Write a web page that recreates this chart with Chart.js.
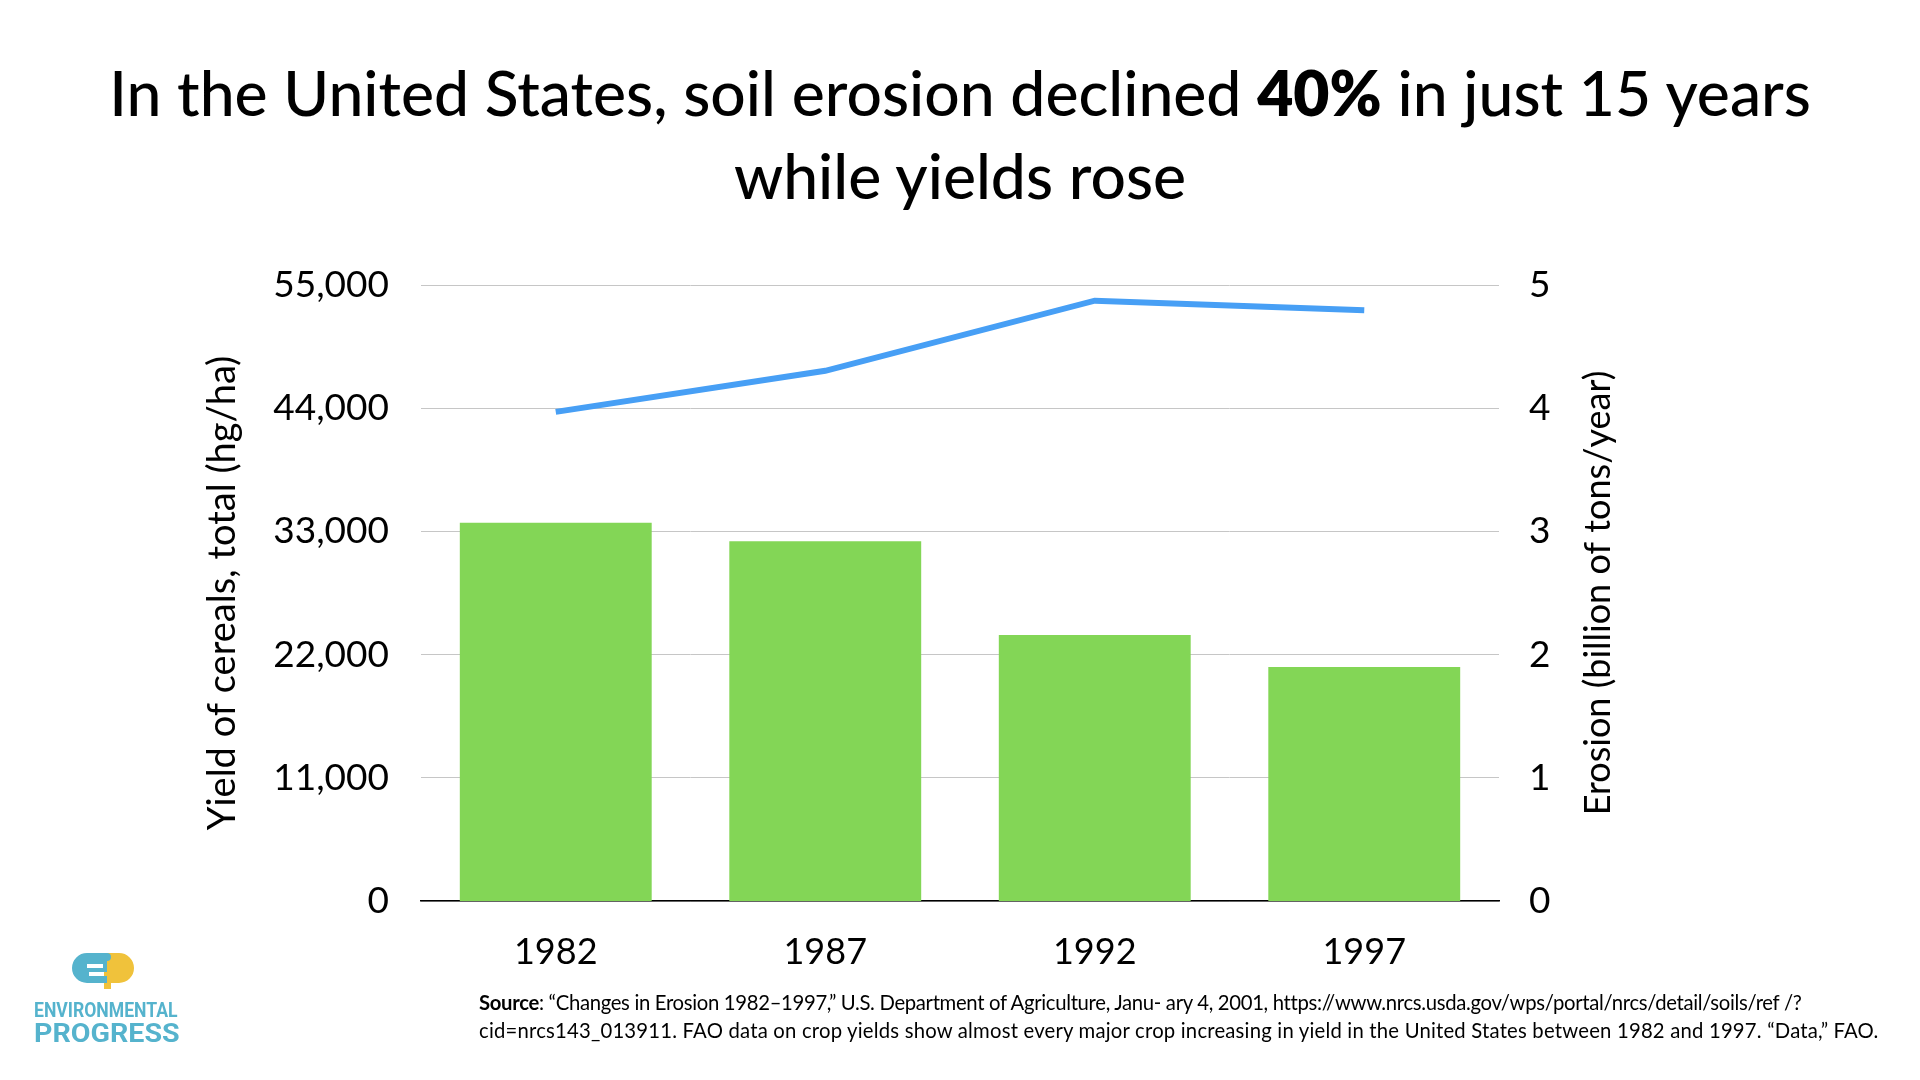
<!DOCTYPE html>
<html>
<head>
<meta charset="utf-8">
<script src="https://cdn.jsdelivr.net/npm/chart.js@4.4.1/dist/chart.umd.min.js"></script>
<style>
  html, body { margin: 0; padding: 0; background: #fff; }
  body { width: 1920px; height: 1080px; position: relative; overflow: hidden; font-family: Lato, "Noto Sans", sans-serif; }
  #wrap { position: absolute; left: 0; top: 0; width: 1920px; height: 1080px; }
  .title { position: absolute; left: 0; top: 50px; width: 1920px; text-align: center; font-size: 62.4px; line-height: 83px; font-weight: 500; color: #000; }
  .title b { font-weight: 800; }
  .source { position: absolute; left: 479px; top: 988px; font-size: 20.3px; line-height: 28px; color: #000; white-space: nowrap; }
  .source .s1 { letter-spacing: -0.32px; }
  .source .s2 { letter-spacing: 0.2px; }
  .logo { position: absolute; left: 34px; top: 950px; width: 146px; color: #55b3cd; font-family: Roboto, "DejaVu Sans", sans-serif; font-weight: bold; }
  .logo div { transform-origin: 0 0; white-space: nowrap; }
  .logo .l1 { font-size: 20px; line-height: 20px; margin-top: 50px; transform: scaleX(0.88); }
  .logo .l2 { font-size: 26px; line-height: 26px; transform: scaleX(1.1); }
</style>
</head>
<body>
<div id="wrap"><canvas id="chart" width="1920" height="1080"></canvas></div>
<div class="title">In the United States, soil erosion declined <b>40%</b> in just 15 years<br>while yields rose</div>
<div class="logo">
  <svg width="64" height="36" viewBox="0 0 64 36" style="position:absolute;left:38px;top:3px">
    <path d="M32 0 H47 A15 15 0 0 1 47 30 H39 V36 H32 Z" fill="#f0c23b"/>
    <path d="M15 0 H35 A4 4 0 0 1 35 8 V19 H17 V23 H35 V30 H15 A15 15 0 0 1 15 0 Z" fill="#55b3cd"/>
    <rect x="15" y="11" width="16" height="4" fill="#fff"/>
  </svg>
  <div class="l1">ENVIRONMENTAL</div>
  <div class="l2">PROGRESS</div>
</div>
<div class="source"><span class="s1"><b>Source</b>: “Changes in Erosion 1982–1997,” U.S. Department of Agriculture, Janu- ary 4, 2001, https://www.nrcs.usda.gov/wps/portal/nrcs/detail/soils/ref /?</span><br><span class="s2">cid=nrcs143_013911. FAO data on crop yields show almost every major crop increasing in yield in the United States between 1982 and 1997. “Data,” FAO.</span></div>
<script>
const years = ['1982', '1987', '1992', '1997'];
const cerealYield = [43670, 47340, 53600, 52750];   // hg/ha, left axis
const erosion = [3.07, 2.92, 2.16, 1.90];            // billion tons/year, right axis
const yieldTicks = [0, 11000, 22000, 33000, 44000, 55000];
const leftTitle = 'Yield of cereals, total (hg/ha)';
const rightTitle = 'Erosion (billion of tons/year)';

const fontFam = 'Lato, "Noto Sans", sans-serif';

// right axis title reads bottom-to-top, so draw it here
const rightTitlePlugin = {
  id: 'rightTitle',
  afterDraw(chart) {
    const c = chart.ctx;
    const a = chart.chartArea;
    c.save();
    c.translate(1598, (a.top + a.bottom) / 2);
    c.rotate(-Math.PI / 2);
    c.font = '36px ' + fontFam;
    c.fillStyle = '#000';
    c.textAlign = 'center';
    c.textBaseline = 'middle';
    c.fillText(rightTitle, 0, 0);
    c.restore();
  }
};

new Chart(document.getElementById('chart'), {
  type: 'bar',
  data: {
    labels: years,
    datasets: [{
      type: 'line',
      label: 'Yield',
      data: cerealYield,
      yAxisID: 'y',
      borderColor: '#479ff5',
      borderWidth: 6,
      pointRadius: 0,
      tension: 0,
      order: 0
    }, {
      type: 'bar',
      label: 'Erosion',
      data: erosion,
      yAxisID: 'y1',
      backgroundColor: '#83d656',
      categoryPercentage: 1,
      barPercentage: 0.712,
      order: 1
    }]
  },
  options: {
    responsive: false,
    animation: false,
    layout: { padding: { top: 285, left: 0, right: 0, bottom: 0 } },
    plugins: { legend: { display: false }, tooltip: { enabled: false } },
    scales: {
      x: {
        grid: { display: false, drawTicks: false },
        border: { color: '#000', width: 1.5 },
        ticks: { color: '#000', font: { family: fontFam, size: 36 }, padding: 30 },
        afterFit(s) { s.height = 179; }
      },
      y: {
        position: 'left',
        min: 0, max: 55000,
        afterBuildTicks(s) { s.ticks = yieldTicks.map(v => ({ value: v })); },
        grid: { color: '#c6c6c6', lineWidth: 1, drawTicks: false },
        border: { display: false },
        ticks: {
          color: '#000', padding: 32,
          font: { family: fontFam, size: 37 },
          callback: v => v.toLocaleString('en-US')
        },
        title: { display: true, text: leftTitle, color: '#000', font: { family: fontFam, size: 38 }, padding: { top: 200, bottom: 0 } },
        afterFit(s) { s.width = 421; }
      },
      y1: {
        position: 'right',
        min: 0, max: 5,
        ticks: { stepSize: 1, color: '#000', padding: 30, font: { family: fontFam, size: 37 } },
        grid: { display: false, drawTicks: false },
        border: { display: false },
        afterFit(s) { s.width = 421; }
      }
    }
  },
  plugins: [rightTitlePlugin]
});
</script>
</body>
</html>
